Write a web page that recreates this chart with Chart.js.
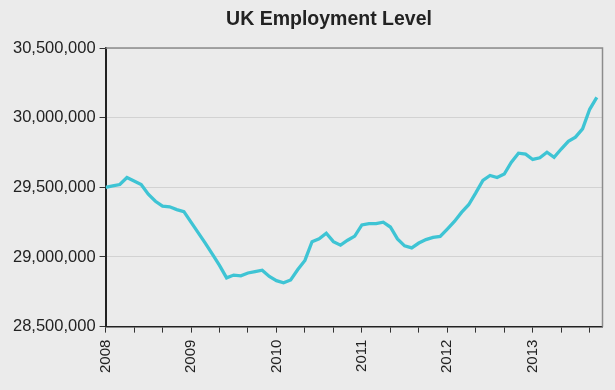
<!DOCTYPE html>
<html>
<head>
<meta charset="utf-8">
<script src="https://cdn.jsdelivr.net/npm/chart.js@4/dist/chart.umd.min.js"></script>
<style>
  html, body { margin: 0; padding: 0; background: #ebebeb; }
  #wrap { position: relative; width: 615px; height: 390px; }
  #title {
    position: absolute; left: 0; top: 7px; width: 658px;
    text-align: center; font: bold 19.5px "Liberation Sans", Arial, sans-serif;
    color: #222; line-height: 22px;
  }
  canvas { position: absolute; left: 0; top: 0; }
</style>
</head>
<body>
<div id="wrap">
  <canvas id="chart" width="615" height="390"></canvas>
  <div id="title">UK Employment Level</div>
</div>
<script>
// month index 0 = Jan 2008
const months = [];
const employment = [
  29500000, 29510000, 29520000, 29570000, 29545000, 29520000, 29450000, 29400000, 29365000, 29360000, 29340000, 29325000,
  29250000, 29175000, 29100000, 29020000, 28940000, 28850000, 28870000, 28865000, 28885000, 28895000, 28905000, 28860000,
  28830000, 28815000, 28835000, 28910000, 28975000, 29110000, 29130000, 29170000, 29110000, 29085000, 29120000, 29150000,
  29230000, 29240000, 29240000, 29250000, 29215000, 29130000, 29080000, 29065000, 29100000, 29125000, 29140000, 29147000,
  29200000, 29255000, 29320000, 29375000, 29460000, 29550000, 29585000, 29570000, 29595000, 29680000, 29745000, 29738000,
  29700000, 29712000, 29752000, 29715000, 29775000, 29830000, 29860000, 29920000, 30060000, 30145000
];
for (let i = 0; i < employment.length; i++) months.push(i);

const yearLabels = ['2008', '2009', '2010', '2011', '2012', '2013'];
const xTicks = [0, 4, 8, 12, 16, 20, 24, 28, 32, 36, 40, 44, 48, 52, 56, 60, 64, 68];
const yTicks = [28500000, 29000000, 29500000, 30000000, 30500000];

const frame = {
  id: 'frame',
  afterDraw(chart) {
    const a = chart.chartArea, ctx = chart.ctx;
    ctx.save();
    ctx.strokeStyle = '#8c8c8c';
    ctx.lineWidth = 1.5;
    ctx.beginPath();
    ctx.moveTo(a.left, a.top);
    ctx.lineTo(a.right, a.top);
    ctx.lineTo(a.right, a.bottom);
    ctx.stroke();
    ctx.restore();
  }
};

new Chart(document.getElementById('chart'), {
  type: 'line',
  data: {
    datasets: [{
      data: months.map((m, i) => ({ x: m, y: employment[i] })),
      borderColor: '#3ec4d4',
      borderWidth: 3.3,
      pointRadius: 0,
      tension: 0,
      fill: false
    }]
  },
  options: {
    responsive: false,
    animation: false,
    layout: { padding: { top: 48, right: 12, left: 9, bottom: 10 } },
    plugins: { legend: { display: false }, title: { display: false }, tooltip: { enabled: false } },
    scales: {
      x: {
        type: 'linear',
        min: 0,
        max: 69.8,
        afterBuildTicks: s => { s.ticks = xTicks.map(v => ({ value: v })); },
        grid: { drawOnChartArea: false, drawTicks: true, tickLength: 6, tickColor: '#333' },
        border: { color: '#222', width: 1.5 },
        ticks: {
          autoSkip: false,
          minRotation: 90,
          maxRotation: 90,
          padding: 7,
          color: '#222',
          font: { family: '"Liberation Sans", Arial, sans-serif', size: 15 },
          callback: v => (v % 12 === 0 ? yearLabels[v / 12] : '')
        }
      },
      y: {
        min: 28500000,
        max: 30500000,
        afterBuildTicks: s => { s.ticks = yTicks.map(v => ({ value: v })); },
        grid: { color: '#d2d2d2', tickLength: 6, tickColor: '#333', lineWidth: 1 },
        border: { color: '#222', width: 2 },
        ticks: {
          padding: 4,
          color: '#222',
          font: { family: '"Liberation Sans", Arial, sans-serif', size: 16.5 },
          callback: v => v.toLocaleString('en-US')
        }
      }
    }
  },
  plugins: [frame]
});
</script>
</body>
</html>
